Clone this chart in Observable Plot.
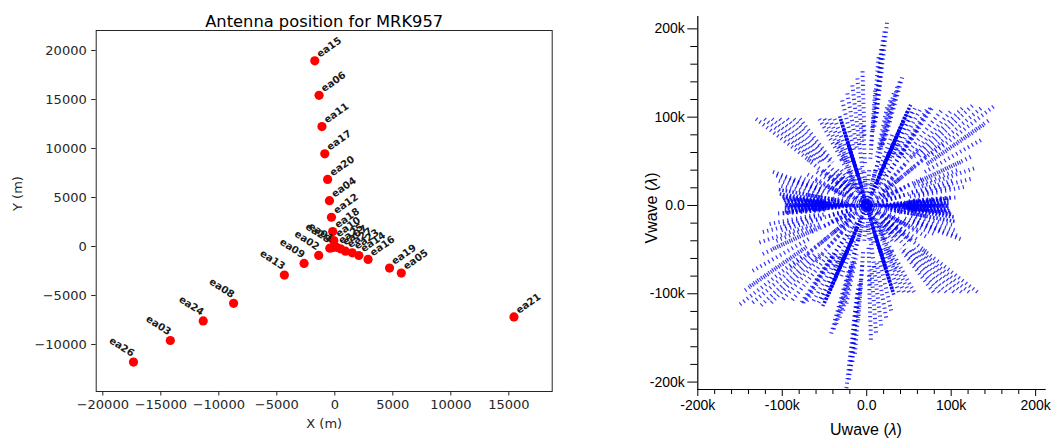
<!DOCTYPE html>
<html>
<head>
<meta charset="utf-8">
<script src="https://cdn.jsdelivr.net/npm/d3@7"></script>
<script src="https://cdn.jsdelivr.net/npm/@observablehq/plot@0.6"></script>
<style>
  html, body { margin: 0; padding: 0; background: #fff; }
  #page { position: relative; width: 1052px; height: 439px; overflow: hidden; }
  #left { position: absolute; left: 0; top: 0; }
  #right { position: absolute; left: 560px; top: 0; }
  .uvlab { position: absolute; font-family: "Liberation Sans", Arial, sans-serif; font-size: 16px; color: #000; white-space: nowrap; }
</style>
</head>
<body>
<div id="page">
  <div id="left"></div>
  <div id="right"></div>
  <div class="uvlab" id="ulab" style="left:866px; top:430px; transform:translate(-50%,-50%);">Uwave (<i>λ</i>)</div>
  <div class="uvlab" id="vlab" style="left:651.5px; top:208px; transform:translate(-50%,-50%) rotate(-90deg);">Vwave (<i>λ</i>)</div>
</div>
<script>
// ---------------- Left panel data: antenna positions (m) ----------------
const antNames = ["ea15","ea06","ea11","ea17","ea20","ea04","ea12","ea18","ea10",
                  "ea26","ea03","ea24","ea08","ea13","ea09","ea02","ea28","ea01",
                  "ea21","ea05","ea19","ea16","ea14","ea23","ea27","ea07","ea25"];
const antX = [-1726,-1356,-1110,-863,-617,-462,-290,-180,-86,
              -17355,-14180,-11344,-8724,-4347,-2651,-1387,-431,-180,
              15445,5734,4717,2867,2069,1500,922,491,150];
const antY = [18949,15424,12237,9458,6847,4678,2985,1528,612,
              -11797,-9593,-7593,-5797,-2915,-1729,-915,-173,-110,
              -7186,-2712,-2203,-1322,-918,-643,-480,-235,-80];
const westArmNames = ["ea26","ea03","ea24","ea08","ea13","ea09","ea02","ea28","ea01"];
const antXTicks = [-20000,-15000,-10000,-5000,0,5000,10000,15000];
const antYTicks = [-10000,-5000,0,5000,10000,15000,20000];
const antTitle = "Antenna position for MRK957";
const antXLabel = "X (m)";
const antYLabel = "Y (m)";

// ---------------- Right panel data: uv rows [uOut, vOut, uIn, vIn] in kλ ----------------
// each row is one baseline spread over frequency; the conjugate half is drawn at (-u,-v)
const topSpikeRows = [[24,207,12,104],[21,197,11,99],[19,187,10,94],[17,177,9,89],[14,168,7,84],[10,130,5,65],[8,100,4,50]];
const bottomSpikeRows = [[5,-152,2.5,-76],[11,-144,5.5,-72],[17,-136,8.5,-68],[23,-127,11.5,-64],[29,-119,14.5,-60],[4,-90,2,-45],[9,-70,4,-35]];
const sseLineRows = [[32,-101,16,-50],[30,-95,14,-45],[27,-86,12,-40],[24,-76,10,-33],[20,-64,8,-27],[16,-52,6,-21],[12,-40,4,-14],[8,-27,3,-10],[31,-98,15,-48],[22,-70,11,-35],[14,-46,7,-23],[5,-17,2,-7]];
const sseWedgeRows = [[56,-98,28,-49],[50,-98,25,-49],[44,-98,22,-49],[38,-98,19,-49],[34,-72,17,-36],[28,-55,14,-27]];
const lowerRightWedgeRows = [[131,-98,65,-49],[121,-98,60,-49],[112,-98,56,-49],[103,-98,51,-49],[94,-98,47,-49],[86,-98,43,-49],[79,-98,40,-49]];
const neLineRows = [[52,114,26,57],[48,106,22,49],[43,95,19,42],[38,84,16,36],[33,72,13,29],[27,60,11,24],[21,47,8,18],[15,33,5,12],[50,110,25,55],[45,100,22,50],[40,88,20,44],[35,77,17,38],[29,64,14,32],[24,53,12,26],[18,40,9,20],[12,26,6,13],[6,13,3,6]];
const neWedgeRows = [[42,145,21,73],[39,140,19,70],[36,134,18,67],[32,127,16,63],[28,119,14,59],[24,111,12,55],[53,106,27,53],[57,110,29,55],[63,108,32,54],[71,108,36,54],[77,110,39,55],[20,75,10,37],[15,55,7,27],[10,38,5,19],[30,80,15,40],[38,70,19,35]];
const upperRightFanRows = [[75,110,38,55],[88,107,44,54],[99,106,50,53],[113,110,56,55],[125,113,62,56],[135,110,67,55],[150,112,75,56],[144,96,72,48],[138,91,69,45],[135,74,67,37],[90,70,45,35],[70,55,35,27],[55,43,27,21],[40,31,20,15],[25,20,12,10],[60,62,30,31],[45,46,22,23],[60,85,30,42],[45,64,22,32],[30,43,15,21]];
const lowerRightFanRows = [[123,55,61,27],[111,49,55,24],[127,42,63,21],[107,40,53,20],[123,30,61,15],[101,28,50,14],[115,21,57,10],[99,21,50,10],[105,9,52,5],[99,9,50,5],[60,16,30,8],[45,12,22,6],[30,8,15,4],[65,30,32,15],[50,23,25,11],[35,16,17,8]];
const eastBandRows = [[97,6,48,3],[97,2,48,1],[96,0,48,0],[97,-3,48,-1.5],[98,-6,49,-3],[100,-10,50,-5],[103,-13,51,-6],[104,-18,52,-9],[95,-1,47,0],[90,1,45,0],[80,0,40,0],[70,2,35,1],[60,-2,30,-1],[50,1,25,0],[40,-1,20,0],[30,0,15,0],[94,3,47,1],[85,-2,42,-1],[75,-1,37,0],[65,1,32,0],[55,0,27,0],[45,2,22,1],[35,-2,17,-1],[25,1,12,0],[20,0,8,0],[12,1,5,0],[70,-12,35,-6],[50,-9,25,-4],[96,8,48,4],[99,-8,49,-4],[93,-5,46,-2],[88,6,44,3],[86,-7,43,-3],[78,4,39,2],[72,-5,36,-2],[62,5,31,2],[58,-6,29,-3]];
const lowerRightRows = [[111,-38,55,-19],[107,-34,53,-17],[104,-28,52,-14],[101,-22,50,-11],[87,-28,43,-14],[79,-32,40,-16],[70,-35,35,-17],[59,-38,30,-19],[50,-40,25,-20],[40,-35,20,-17],[30,-40,15,-20],[70,-52,35,-26],[52,-39,26,-19],[35,-26,17,-13],[60,-28,30,-14],[45,-21,22,-10],[30,-52,15,-26],[22,-38,11,-19]];
const centerRows = [[10,40,5,20],[20,35,10,17],[30,30,15,15],[35,20,17,10],[40,10,20,5],[45,-5,22,-2],[40,-20,20,-10],[30,-30,15,-15],[20,-38,10,-19],[8,-42,4,-21],[2,-30,1,-15],[15,25,7,12],[25,15,12,7],[25,-15,12,-7],[15,-25,7,-12],[5,20,2,10],[20,5,10,2],[20,-10,10,-5],[10,-20,5,-10],[3,40,1,20],[-3,38,-1,19],[45,-30,22,-15],[35,-40,17,-20],[48,-22,24,-11],[45,-45,22,-22],[35,-35,17,-17],[-12,35,-6,17],[-20,30,-10,15],[-28,32,-14,16],[-35,25,-17,12],[-38,15,-19,7],[-40,8,-20,4],[28,24,14,12],[38,30,19,15],[42,18,21,9]];
const coreRows = [[15,0,7,0],[14,5,7,2],[12,9,6,4],[9,13,4,6],[5,15,2,7],[0,16,0,8],[-4,15,-2,7],[14,-5,7,-2],[12,-9,6,-4],[9,-13,4,-6],[5,-15,2,-7],[-8,14,-4,7],[-12,10,-6,5],[18,12,9,6],[18,-12,9,-6],[-10,20,-5,10],[24,6,12,3],[22,-6,11,-3]];
const tinyRows = [[8,0,0.5,0],[6,5,0.5,0.4],[3,7,0.3,0.6],[6,-5,0.5,-0.4],[3,-7,0.3,-0.6],[-3,8,-0.3,0.6],[7,2,0.5,0],[7,-2,0.5,0],[1,8,0,0.6],[-6,6,-0.4,0.5]];
const uvMajorTicks = [-200,-100,0,100,200];
const uvMinorTicks = [-180,-160,-140,-120,-80,-60,-40,-20,20,40,60,80,120,140,160,180];

// ---------------- Left panel ----------------
const antennas = antNames.map((n, i) => ({name: n, x: antX[i], y: antY[i], west: westArmNames.includes(n)}));
const mplFmt = d => (d < 0 ? "\u2212" : "") + Math.abs(d);
const ink = "#262626";

const leftPlot = Plot.plot({
  width: 560, height: 439,
  marginLeft: 95.7, marginRight: 8.3, marginTop: 30, marginBottom: 48,
  x: {domain: [-20569, 18741]},
  y: {domain: [-14796, 22041]},
  style: {fontFamily: "'DejaVu Sans', sans-serif", fontSize: "13px", color: ink, background: "white", overflow: "visible"},
  marks: [
    Plot.frame({stroke: ink, strokeWidth: 1}),
    Plot.axisX(antXTicks, {tickSize: 4.5, tickPadding: 4, tickFormat: mplFmt, label: null, stroke: ink}),
    Plot.axisY(antYTicks, {tickSize: 4.5, tickPadding: 5, tickFormat: mplFmt, label: null, stroke: ink}),
    Plot.dot(antennas, {x: "x", y: "y", r: 4.6, fill: "#ff0000"}),
    Plot.text(antennas.filter(d => !d.west), {x: "x", y: "y", text: "name", rotate: -35, textAnchor: "start", lineAnchor: "bottom",
      dx: 5, dy: -3, fontWeight: "bold", fontSize: 10, fill: "#1a1a1a"}),
    Plot.text(antennas.filter(d => d.west), {x: "x", y: "y", text: "name", rotate: 33, textAnchor: "end", lineAnchor: "bottom",
      dx: -2, dy: -5, fontWeight: "bold", fontSize: 10, fill: "#1a1a1a"}),
    Plot.text([antTitle], {frameAnchor: "top", dy: -15, fontSize: 16.3, fill: "#000"}),
    Plot.text([antXLabel], {frameAnchor: "bottom", dy: 36, fontSize: 13, fill: ink}),
    Plot.text([antYLabel], {frameAnchor: "left", dx: -78, rotate: -90, fontSize: 13, fill: ink})
  ]
});
document.getElementById("left").append(leftPlot);

// ---------------- Right panel ----------------
const uvRows = [].concat(topSpikeRows, bottomSpikeRows, sseWedgeRows, lowerRightWedgeRows,
  neWedgeRows, upperRightFanRows, lowerRightFanRows, lowerRightRows, centerRows, coreRows);
const uvDenseRows = [].concat(sseLineRows, neLineRows, eastBandRows);
const uvFmt = d => d === 0 ? "0.0" : `${d}k`;
const rowStyle = {stroke: "#0000ff", strokeWidth: 4, strokeDasharray: "1.2,3.3", strokeOpacity: 0.8};
const denseStyle = {stroke: "#0000ff", strokeWidth: 3.5, strokeDasharray: "1.6,1.8", strokeOpacity: 0.85};
const tinyStyle = {stroke: "#0000ff", strokeWidth: 3, strokeOpacity: 0.9};

const rightPlot = Plot.plot({
  width: 492, height: 439,
  marginLeft: 137.3, marginRight: 6.3, marginTop: 16, marginBottom: 50,
  x: {domain: [-200, 212.5]},
  y: {domain: [-208.4, 214]},
  style: {fontFamily: "'Liberation Sans', Arial, sans-serif", fontSize: "14px", color: "#000", background: "white", overflow: "visible"},
  marks: [
    Plot.link(uvRows, {x1: d => d[0], y1: d => d[1], x2: d => d[2], y2: d => d[3], ...rowStyle}),
    Plot.link(uvRows, {x1: d => -d[0], y1: d => -d[1], x2: d => -d[2], y2: d => -d[3], ...rowStyle}),
    Plot.link(uvDenseRows, {x1: d => d[0], y1: d => d[1], x2: d => d[2], y2: d => d[3], ...denseStyle}),
    Plot.link(uvDenseRows, {x1: d => -d[0], y1: d => -d[1], x2: d => -d[2], y2: d => -d[3], ...denseStyle}),
    Plot.link(tinyRows, {x1: d => d[0], y1: d => d[1], x2: d => d[2], y2: d => d[3], ...tinyStyle}),
    Plot.link(tinyRows, {x1: d => -d[0], y1: d => -d[1], x2: d => -d[2], y2: d => -d[3], ...tinyStyle}),
    Plot.ruleX([-200], {stroke: "#000", strokeWidth: 1.2}),
    Plot.ruleY([-208.4], {stroke: "#000", strokeWidth: 1.2}),
    Plot.axisY(uvMajorTicks, {anchor: "left", tickSize: 10, tickPadding: 3, tickFormat: uvFmt, label: null, stroke: "#000"}),
    Plot.axisY(uvMinorTicks, {anchor: "left", tickSize: 7, tickFormat: () => "", label: null, stroke: "#000"}),
    Plot.axisX(uvMajorTicks, {anchor: "bottom", tickSize: 7, tickPadding: 4, tickFormat: uvFmt, label: null, stroke: "#000"}),
    Plot.axisX(uvMinorTicks, {anchor: "bottom", tickSize: 5, tickFormat: () => "", label: null, stroke: "#000"})
  ]
});
document.getElementById("right").append(rightPlot);
</script>
</body>
</html>
